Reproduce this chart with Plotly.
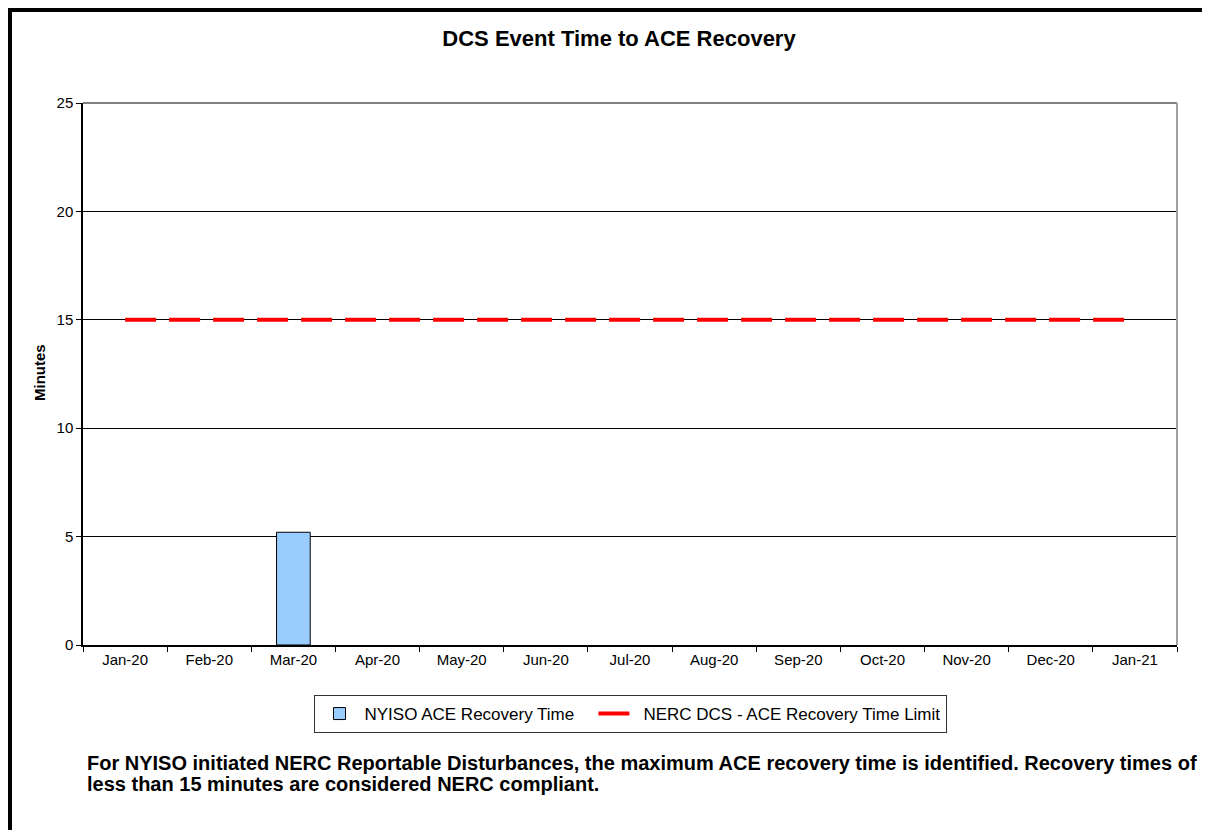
import plotly.graph_objects as go

months = ["Jan-20", "Feb-20", "Mar-20", "Apr-20", "May-20", "Jun-20", "Jul-20",
          "Aug-20", "Sep-20", "Oct-20", "Nov-20", "Dec-20", "Jan-21"]
recovery_time = [None, None, 5.2, None, None, None, None, None, None, None, None, None, None]
limit = [15] * 13
y_ticks = [0, 5, 10, 15, 20, 25]

title_text = "DCS Event Time to ACE Recovery"
note_line1 = ("For NYISO initiated NERC Reportable Disturbances, the maximum ACE recovery time is identified. "
              "Recovery times of")
note_line2 = "less than 15 minutes are considered NERC compliant."

FONT = "Liberation Sans, Arial, sans-serif"

fig = go.Figure()
fig.add_trace(go.Bar(
    x=months, y=recovery_time, name="NYISO ACE Recovery Time\u00a0\u00a0\u00a0",
    marker=dict(color="#99CCFF", line=dict(color="black", width=1)),
    width=0.4,
))
fig.add_trace(go.Scatter(
    x=months, y=limit, name="NERC DCS - ACE Recovery Time Limit", mode="lines",
    line=dict(color="#FF0000", width=4, dash="31px,13px"),
))

OFF = 8  # page body margin
W, H = 1210, 830
PL, PR, PT, PB = 83, 1177, 103, 645  # plot area in page pixels
L, T = PL - OFF, PT - OFF
R = W - (PR - OFF)
B = H - (PB - OFF)
pw, ph = PR - PL, PB - PT

def px(x):
    return (x - PL) / pw

def py(y):
    return (PB - y) / ph

fig.update_layout(
    width=W, height=H,
    margin=dict(l=L, r=R, t=T, b=B, autoexpand=False),
    paper_bgcolor="white", plot_bgcolor="white",
    font=dict(family=FONT, size=15, color="black"),
    title=dict(text="<b>" + title_text + "</b>", x=px(619), xref="paper", xanchor="center",
               y=1 - (38 - OFF) / H, yanchor="middle", font=dict(size=22, family=FONT)),
    showlegend=True,
    legend=dict(orientation="h", x=px(630), xanchor="center", y=py(695), yanchor="top",
                bordercolor="#333333", borderwidth=1, bgcolor="white",
                font=dict(size=17, family=FONT), itemwidth=40),
    bargap=0.6,
    xaxis=dict(type="category", range=[-0.5, 12.5], tickson="boundaries",
               ticks="outside", ticklen=5, tickcolor="black", showgrid=False,
               showline=True, linecolor="black", linewidth=2,
               tickfont=dict(size=15, family=FONT), fixedrange=True),
    yaxis=dict(range=[0, 25], tickvals=y_ticks, ticks="outside", ticklen=5, tickcolor="black",
               showgrid=True, gridcolor="black", gridwidth=1, zeroline=False,
               showline=True, linecolor="black", linewidth=1.5,
               tickfont=dict(size=15, family=FONT), fixedrange=True),
    shapes=[
        dict(type="line", xref="paper", yref="paper", x0=0, x1=1, y0=1, y1=1,
             line=dict(color="#808080", width=2)),
        dict(type="line", xref="paper", yref="paper", x0=1, x1=1, y0=0, y1=1,
             line=dict(color="#A0A0A0", width=2)),
        dict(type="rect", xref="paper", yref="paper", x0=px(10), x1=px(1260), y0=py(10), y1=py(880),
             line=dict(color="black", width=4), layer="above"),
    ],
    annotations=[
        dict(text="<b>Minutes</b>", xref="paper", yref="paper", x=px(39), y=py(373),
             xanchor="center", yanchor="middle", textangle=-90, showarrow=False,
             font=dict(size=15, family=FONT)),
        dict(text="<b>" + note_line1 + "</b>", xref="paper", yref="paper", x=px(85), y=py(763),
             xanchor="left", yanchor="middle", align="left", showarrow=False,
             font=dict(size=20, family=FONT, color="black")),
        dict(text="<b>" + note_line2 + "</b>", xref="paper", yref="paper", x=px(85), y=py(784),
             xanchor="left", yanchor="middle", align="left", showarrow=False,
             font=dict(size=20, family=FONT, color="black")),
    ],
)

fig.write_html("out.html")
